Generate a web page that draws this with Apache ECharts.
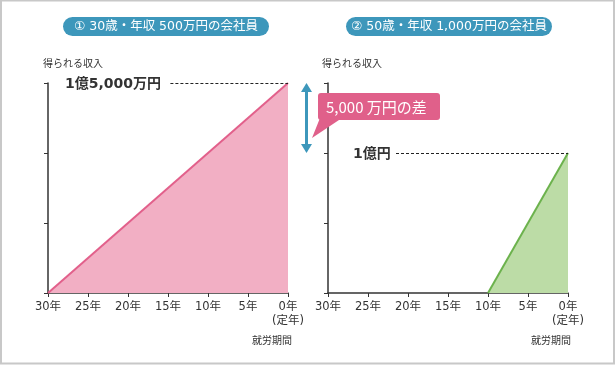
<!DOCTYPE html>
<html><head><meta charset="utf-8">
<script src="https://cdn.jsdelivr.net/npm/echarts@6/dist/echarts.min.js"></script>
<style>html,body{margin:0;padding:0;background:#fff}#c{width:616px;height:365px}</style>
</head><body><div id="c"></div>
<script>
const xTicks = [30, 25, 20, 15, 10, 5, 0];
const yMax = 15000, yStep = 5000;
const leftYears = [30, 0];
const leftIncome = [0, 15000];
const rightYears = [10, 0];
const rightIncome = [0, 10000];
const leftTitle = '① 30歳・年収 500万円の会社員';
const rightTitle = '② 50歳・年収 1,000万円の会社員';
const leftPeak = '1億5,000万円';
const rightPeak = '1億円';
const diffLabel = '5,000 万円の差';
const leftDashStart = 14.7, rightDashStart = 21.5;

const FONT = '"DejaVu Sans", "Noto Sans CJK JP", sans-serif';
const CJK = '"Noto Sans CJK JP", sans-serif';
const chart = echarts.init(document.getElementById('c'));

function xAxis(gi) {
  return {
    gridIndex: gi, type: 'value', inverse: true, min: 0, max: 30, interval: 5,
    axisLine: { lineStyle: { color: '#333', width: 1.5 } },
    axisTick: { lineStyle: { color: '#333' }, length: 4 },
    splitLine: { show: false },
    axisLabel: {
      color: '#333', fontSize: 11.5, fontFamily: FONT, margin: 7, lineHeight: 14,
      formatter: v => v === 0 ? '0年\n(定年)' : v + '年'
    }
  };
}
function yAxis(gi) {
  return {
    gridIndex: gi, type: 'value', min: 0, max: yMax, interval: yStep, position: 'left',
    axisLine: { show: true, onZero: false, lineStyle: { color: '#333', width: 1.5 } },
    axisTick: { show: true, lineStyle: { color: '#333' }, length: 4 },
    axisLabel: { show: false }, splitLine: { show: false }
  };
}
const pairs = (xs, ys) => xs.map((x, i) => [x, ys[i]]);

function pill(cx, text) {
  return {
    type: 'group', children: [
      { type: 'rect', shape: { x: cx - 103, y: 17, width: 206, height: 19, r: 10 }, style: { fill: '#3d97bb' } },
      { type: 'text', x: cx, y: 26.5, z: 10, style: { text: text, fill: '#fff', font: '12.5px ' + FONT, align: 'center', verticalAlign: 'middle' } }
    ]
  };
}

chart.setOption({
  animation: false,
  grid: [
    { left: 48, top: 83, width: 240, height: 210 },
    { left: 328, top: 83, width: 240, height: 210 }
  ],
  xAxis: [xAxis(0), xAxis(1)],
  yAxis: [yAxis(0), yAxis(1)],
  series: [
    {
      type: 'line', xAxisIndex: 0, yAxisIndex: 0, data: pairs(leftYears, leftIncome),
      symbol: 'none', lineStyle: { color: '#e2608b', width: 2 }, areaStyle: { color: '#f2afc4', opacity: 1 },
      markLine: { silent: true, symbol: 'none', label: { show: false },
        lineStyle: { color: '#222', type: [3, 2], width: 1 },
        data: [[{ coord: [leftDashStart, yMax] }, { coord: [0, yMax] }]] }
    },
    {
      type: 'line', xAxisIndex: 1, yAxisIndex: 1, data: pairs(rightYears, rightIncome),
      symbol: 'none', lineStyle: { color: '#6cb24d', width: 2 }, areaStyle: { color: '#bcdca6', opacity: 1 },
      markLine: { silent: true, symbol: 'none', label: { show: false },
        lineStyle: { color: '#222', type: [3, 2], width: 1 },
        data: [[{ coord: [rightDashStart, rightIncome[1]] }, { coord: [0, rightIncome[1]] }]] }
    }
  ],
  graphic: [
    { type: 'rect', shape: { x: 1, y: 0.5, width: 613, height: 363 }, style: { fill: 'none', stroke: '#c8c8c8', lineWidth: 2 }, z: 100 },
    pill(166, leftTitle),
    pill(449, rightTitle),
    { type: 'text', x: 43, y: 63, style: { text: '得られる収入', fill: '#333', font: '10px ' + CJK, verticalAlign: 'middle' } },
    { type: 'text', x: 322, y: 63, style: { text: '得られる収入', fill: '#333', font: '10px ' + CJK, verticalAlign: 'middle' } },
    { type: 'text', x: 65, y: 84, style: { text: leftPeak, fill: '#333', font: 'bold 14px ' + FONT, verticalAlign: 'middle' } },
    { type: 'text', x: 353, y: 154, style: { text: rightPeak, fill: '#333', font: 'bold 14px ' + FONT, verticalAlign: 'middle' } },
    { type: 'text', x: 272, y: 340, style: { text: '就労期間', fill: '#333', font: '10px ' + CJK, align: 'center', verticalAlign: 'middle' } },
    { type: 'text', x: 551, y: 340, style: { text: '就労期間', fill: '#333', font: '10px ' + CJK, align: 'center', verticalAlign: 'middle' } },
    // double arrow
    { type: 'rect', shape: { x: 305, y: 90, width: 3, height: 56 }, style: { fill: '#3d97bb' } },
    { type: 'polygon', shape: { points: [[306.5, 83], [301, 92], [312, 92]] }, style: { fill: '#3d97bb' } },
    { type: 'polygon', shape: { points: [[306.5, 153], [301, 144], [312, 144]] }, style: { fill: '#3d97bb' } },
    // callout
    { type: 'polygon', z: 5, shape: { points: [[320, 118], [342, 118], [312, 138]] }, style: { fill: '#e0608a' } },
    { type: 'rect', z: 5, shape: { x: 318, y: 93, width: 122, height: 27, r: 3 }, style: { fill: '#e0608a' } },
    { type: 'text', z: 20, x: 326, y: 107, style: { text: diffLabel, fill: '#fff', font: '15px ' + CJK, align: 'left', verticalAlign: 'middle' } }
  ]
});
</script></body></html>
